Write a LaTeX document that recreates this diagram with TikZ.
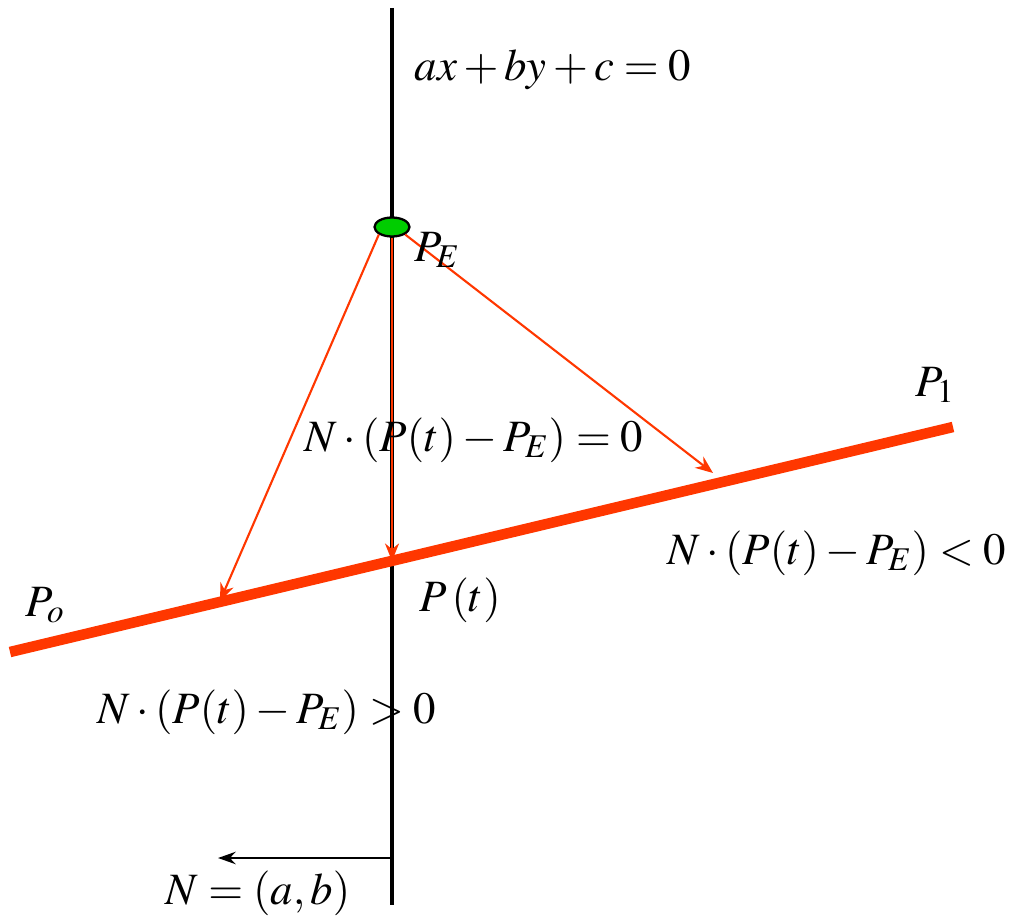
\documentclass[tikz,border=0pt]{standalone}
\usepackage{amsmath}
\usepackage{mathptmx}
\usepackage{tikz}
\usetikzlibrary{positioning,arrows.meta,shapes.geometric}
\definecolor{rayred}{RGB}{255,55,0}
\definecolor{eyegreen}{RGB}{0,205,0}

\begin{document}
\begin{tikzpicture}[x=0.2mm,y=-0.2mm,
    axis/.style={line width=2pt,black},
    segline/.style={line width=6pt,rayred},
    ray/.style={line width=1.2pt,rayred,-{Stealth[length=10pt,width=8pt]}},
    lbl/.style={inner sep=0pt,font=\fontsize{25.5}{30}\selectfont}]
				\useasboundingbox (0,0) rectangle (1015,924);
				% points on the line
				\coordinate (P0) at (10,652);
				\coordinate (P1) at (953,427);
				\coordinate (Pt) at (392,561);
				\coordinate (Lend) at (220,601);
				\coordinate (Rend) at (713,473);
				\coordinate (top) at (392,8);
				\coordinate (bot) at (392,905);
				\coordinate (Nbase) at (392,858);
				\coordinate (Ntip) at (218,858);
				% normal line and segment
				\draw[axis] (top) -- (bot);
				\draw[segline] (P0) -- (P1);
				% eye point
				\node[ellipse,draw=black,line width=1.3pt,fill=eyegreen,
				      minimum width=7mm,minimum height=3.8mm,
				      inner sep=0pt] (PE) at (392,227) {};
				% rays
				\draw[ray] (PE.south west) -- (Lend);
				\draw[ray] (PE.south) -- (Pt);
				\draw[ray] (PE.south east) -- (Rend);
				\draw[line width=1.4pt,-{Stealth[length=10pt,width=7pt]}] (Nbase) -- (Ntip);
				% labels
				\node[lbl] (eq) at (553,70) {$ax+by+c=0$};
				\node[lbl] (lPE) at (437,250) {$P_E$};
				\node[lbl] (lP1) at (935,385) {$P_1$};
				\node[lbl] (lzero) at (474,440) {$N\cdot(P(t)-P_E)=0$};
				\node[lbl] (lneg) at (837,553) {$N\cdot(P(t)-P_E)<0$};
				\node[lbl] (lPt) at (460,600) {$P\,(t)$};
				\node[lbl] (lP0) at (45,605) {$P_o$};
				\node[lbl] (lpos) at (267,712) {$N\cdot(P(t)-P_E)>0$};
				\node[lbl] (lN) at (258,893) {$N=(a,b)$};
			\end{tikzpicture}
\end{document}
